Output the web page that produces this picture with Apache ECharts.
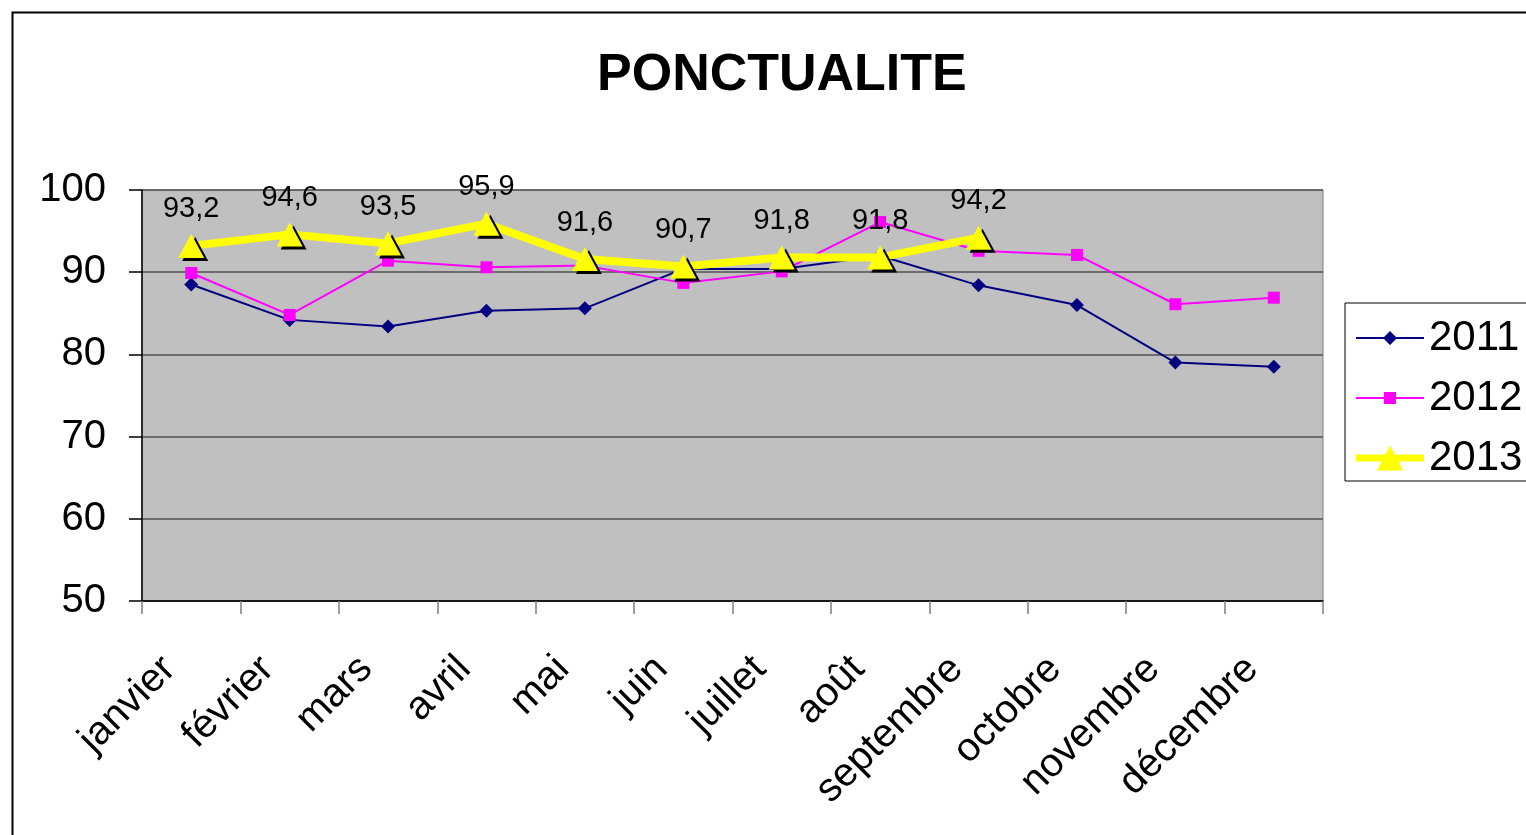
<!DOCTYPE html>
<html>
<head>
<meta charset="utf-8">
<script src="https://cdn.jsdelivr.net/npm/echarts@6/dist/echarts.min.js"></script>
<style>html,body{margin:0;padding:0;background:#fff}#c{width:1526px;height:835px}</style>
</head>
<body>
<div id="c"></div>
<script>
const categories = ['janvier','février','mars','avril','mai','juin','juillet','août','septembre','octobre','novembre','décembre'];
const seriesNames = ['2011','2012','2013'];
const values2011 = [88.5, 84.2, 83.4, 85.3, 85.6, 90.4, 90.4, 92.0, 88.4, 86.0, 79.0, 78.5];
const values2012 = [89.9, 84.8, 91.4, 90.6, 90.8, 88.7, 90.1, 96.1, 92.6, 92.1, 86.1, 86.9];
const values2013 = [93.2, 94.6, 93.5, 95.9, 91.6, 90.7, 91.8, 91.8, 94.2, null, null, null];
const yTicks = [50, 60, 70, 80, 90, 100];

const FONT = '"Liberation Sans", Arial, sans-serif';
const chart = echarts.init(document.getElementById('c'));

chart.setOption({
  backgroundColor: '#ffffff',
  animation: false,
  graphic: [{
    type: 'rect', left: 10, top: 10, z: 100,
    shape: { width: 1540, height: 850 },
    style: { fill: 'none', stroke: '#000', lineWidth: 2 }
  }],
  title: {
    text: 'PONCTUALITE',
    left: 597,
    top: 50,
    padding: 0,
    textStyle: { fontFamily: FONT, fontWeight: 'bold', fontSize: 52, color: '#000' }
  },
  legend: {
    orient: 'vertical',
    left: 1345, top: 303,
    padding: [14, 30, 2, 11],
    itemWidth: 68, itemHeight: 26, itemGap: 18,
    borderColor: '#000', borderWidth: 1,
    backgroundColor: '#fff',
    textStyle: { fontFamily: FONT, fontSize: 42, color: '#000', lineHeight: 40 },
    itemStyle: { borderWidth: 0, shadowColor: 'transparent', shadowBlur: 0, shadowOffsetX: 0, shadowOffsetY: 0 },
    data: [
      { name: seriesNames[0], icon: 'path://M0 12 L68 12 L68 14 L0 14 Z M34 6 L41 13 L34 20 L27 13 Z' },
      { name: seriesNames[1], icon: 'path://M0 12 L68 12 L68 14 L0 14 Z M28 7 L40 7 L40 19 L28 19 Z' },
      { name: seriesNames[2], icon: 'path://M0 9 L68 9 L68 16 L0 16 Z M34 0 L47 25 L21 25 Z' }
    ]
  },
  grid: {
    left: 142, right: 203, top: 190, bottom: 234,
    show: true, backgroundColor: '#c0c0c0', borderColor: '#808080', borderWidth: 1
  },
  xAxis: {
    type: 'category',
    data: categories,
    boundaryGap: true,
    axisLine: { lineStyle: { color: '#000', width: 1.5 } },
    axisTick: { show: true, length: 13, lineStyle: { color: '#808080', width: 1.5 } },
    axisLabel: {
      rotate: 45, margin: 40, padding: [0, 31, 0, 0],
      fontFamily: FONT, fontSize: 40, color: '#000', interval: 0
    },
    splitLine: { show: false }
  },
  yAxis: {
    type: 'value',
    min: yTicks[0], max: yTicks[yTicks.length - 1], interval: 10,
    axisLine: { show: true, lineStyle: { color: '#000', width: 1.5 } },
    axisTick: { show: true, length: 13, lineStyle: { color: '#000', width: 1.5 } },
    axisLabel: { margin: 36, padding: [4, 0, 0, 0], fontFamily: FONT, fontSize: 40, color: '#000' },
    splitLine: { show: true, lineStyle: { color: '#505050', width: 1.5 } }
  },
  series: [
    {
      name: seriesNames[0], type: 'line', data: values2011,
      symbol: 'diamond', symbolSize: [14, 14],
      lineStyle: { color: '#000080', width: 2 },
      itemStyle: { color: '#000080' },
      z: 2
    },
    {
      name: seriesNames[1], type: 'line', data: values2012,
      symbol: 'rect', symbolSize: 12,
      lineStyle: { color: '#ff00ff', width: 2 },
      itemStyle: { color: '#ff00ff' },
      z: 3
    },
    {
      name: seriesNames[2], type: 'line', data: values2013,
      symbol: 'triangle', symbolSize: [26, 24],
      lineStyle: { color: '#ffff00', width: 8 },
      itemStyle: { color: '#ffff00', shadowColor: '#000', shadowBlur: 0, shadowOffsetX: 4, shadowOffsetY: 3 },
      label: {
        show: true, position: 'top', distance: 10,
        fontFamily: FONT, fontSize: 29, color: '#000',
        formatter: p => String(p.value).replace('.', ',')
      },
      z: 4
    }
  ]
});
</script>
</body>
</html>
